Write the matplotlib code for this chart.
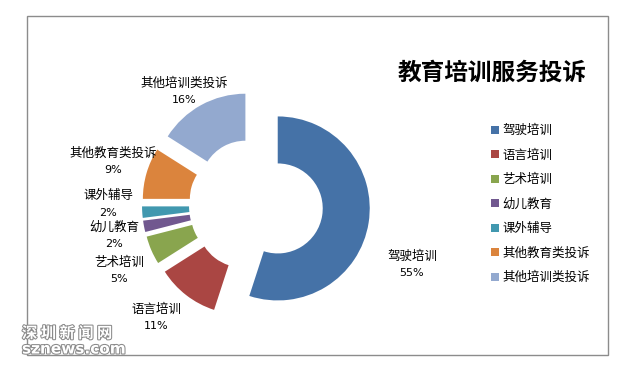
import matplotlib
matplotlib.use('Agg')
import matplotlib.pyplot as plt
from matplotlib.patches import Rectangle
import matplotlib.patheffects as pe

plt.rcParams['font.family'] = ['Noto Sans CJK SC', 'DejaVu Sans']

W, H = 634, 373

title = '教育培训服务投诉'
categories = ['驾驶培训', '语言培训', '艺术培训', '幼儿教育', '课外辅导', '其他教育类投诉', '其他培训类投诉']
shares = [55, 11, 5, 2, 2, 9, 16]
colors = ['#4572A7', '#AA4643', '#89A54E', '#71588F', '#4198AF', '#DB843D', '#93A9CF']
# label centres in pixel coords (x, y from top), name line then percent line
label_pos = [(412, 256), (156, 309), (119, 262), (114, 227), (108, 196), (113, 153), (184, 83)]


def py(y):
    return H - y


fig = plt.figure(figsize=(W / 100, H / 100), dpi=100)
ax = fig.add_axes([0, 0, 1, 1])

R = 92
wedges, _ = ax.pie(shares, colors=colors, startangle=90, counterclock=False,
                   radius=R, center=(256, py(205)), explode=[22] * len(shares),
                   wedgeprops=dict(width=47, linewidth=0))

ax.set_xlim(0, W)
ax.set_ylim(0, H)
ax.set_aspect('auto')
ax.axis('off')

# chart frame
ax.add_patch(Rectangle((27, py(355)), 581, 339, fill=False, ec='#8c8c8c', lw=1))

for name, val, (x, y) in zip(categories, shares, label_pos):
    ax.text(x, py(y), name, ha='center', va='center', fontsize=9)
    ax.text(x, py(y + 17), f'{val}%', ha='center', va='center', fontsize=8,
            family=['DejaVu Sans'])

ax.text(492, py(73), title, ha='center', va='center', fontsize=17, fontweight='bold')

fig.legend(wedges, categories, loc='upper left', bbox_to_anchor=(491 / W, 1 - 124 / H),
           frameon=False, fontsize=9, handlelength=0.6, handleheight=0.6,
           handletextpad=0.3, labelspacing=0.92, borderpad=0, borderaxespad=0)

# watermark
wm = dict(color='white', ha='left', va='center', fontweight='bold',
          path_effects=[pe.withStroke(linewidth=1.5, foreground='#8a8a8a')])
ax.text(22, py(333), '深 圳 新 闻 网', fontsize=11, **wm)
ax.text(22, py(349), 'sznews.com', fontsize=11, family=['DejaVu Sans'], **wm)

fig.savefig('out.png', dpi=100)
